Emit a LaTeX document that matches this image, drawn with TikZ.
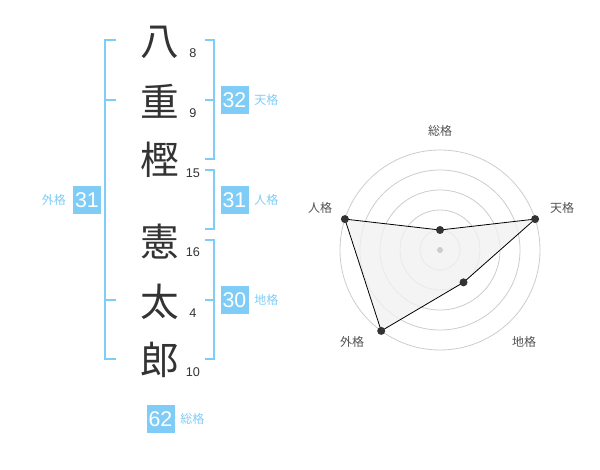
\documentclass[tikz,border=0pt]{standalone}
\usepackage{fontspec}
\setmainfont{Liberation Sans}
\newfontfamily\jpfont{Noto Sans CJK JP}
\usetikzlibrary{positioning}
\definecolor{seiblue}{HTML}{7FCCF7}
\definecolor{seitext}{HTML}{333333}
\definecolor{seigrid}{HTML}{CCCCCC}
\definecolor{seifill}{HTML}{F1F1F1}
\tikzset{
  kanji/.style={font=\jpfont\fontsize{29}{29}\selectfont, text=seitext, inner sep=0pt},
  strokes/.style={font=\fontsize{9.5}{10}\selectfont, text=seitext, inner sep=0pt},
  scorebox/.style={fill=seiblue, text=white, minimum size=21pt, inner sep=0pt, font=\fontsize{16}{16}\selectfont},
  scorelabel/.style={text=seiblue, font=\jpfont\fontsize{9}{9}\selectfont, inner sep=0pt},
  bracket/.style={draw=seiblue, line width=1.5pt},
  axislabel/.style={text=seitext!85, font=\jpfont\fontsize{9}{9}\selectfont, inner sep=0pt},
  valdot/.style={circle, fill=seitext, inner sep=0pt, minimum size=6pt},
}

\begin{document}
\begin{tikzpicture}[x=0.75pt, y=-0.75pt]
  \useasboundingbox (0,0) rectangle (600,470);

  % Name characters
  \node[kanji] (c1) at (160,42) {八};
  \node[kanji] (c2) at (160,101) {重};
  \node[kanji] (c3) at (160,160) {樫};
  \node[kanji] (c4) at (160,242) {憲};
  \node[kanji] (c5) at (160,302) {太};
  \node[kanji] (c6) at (160,360) {郎};

  % Stroke counts
  \node[strokes] (n1) at (193,53) {8};
  \node[strokes] (n2) at (193,113) {9};
  \node[strokes] (n3) at (193,173) {15};
  \node[strokes] (n4) at (193,252) {16};
  \node[strokes] (n5) at (193,313) {4};
  \node[strokes] (n6) at (193,372) {10};

  % Brackets
  \draw[bracket] (116,40) -| (105,359) -- (116,359);
  \draw[bracket] (105,100) -- (116,100);
  \draw[bracket] (105,300) -- (116,300);
  \draw[bracket] (205,40) -| (214,159) -- (205,159);
  \draw[bracket] (205,100) -- (214,100);
  \draw[bracket] (205,170) -| (214,229) -- (205,229);
  \draw[bracket] (205,240) -| (214,359) -- (205,359);
  \draw[bracket] (205,300) -- (214,300);

  % Scores
  \node[scorebox] (ten) at (234.5,100) {32};
  \node[scorelabel, right=4pt of ten] {天格};
  \node[scorebox] (jin) at (234.5,200) {31};
  \node[scorelabel, right=4pt of jin] {人格};
  \node[scorebox] (chi) at (234.5,300) {30};
  \node[scorelabel, right=4pt of chi] {地格};
  \node[scorebox] (gai) at (87,200) {31};
  \node[scorelabel, left=5pt of gai] {外格};
  \node[scorebox] (sou) at (160.5,419) {62};
  \node[scorelabel, right=4pt of sou] {総格};

  % Radar chart
  \begin{scope}[shift={(440,250)}, y=0.75pt]
    \foreach \r in {20,40,...,100}
      \draw[seigrid, line width=0.6pt] (0,0) circle (\r);
    \coordinate (pSou) at (90:20);
    \coordinate (pTen) at (18:100);
    \coordinate (pChi) at (-54:40);
    \coordinate (pGai) at (-126:100);
    \coordinate (pJin) at (162:100);
    \fill[seifill, opacity=0.8] (pSou) -- (pTen) -- (pChi) -- (pGai) -- (pJin) -- cycle;
    \draw[black, line width=0.6pt] (pSou) -- (pTen) -- (pChi) -- (pGai) -- (pJin) -- cycle;
    \node[circle, fill=seigrid, inner sep=0pt, minimum size=4.5pt] (mid) at (0,0) {};
    \foreach \p in {pSou,pTen,pChi,pGai,pJin}
      \node[valdot] at (\p) {};
    \node[axislabel] (lSou) at (0,119) {総格};
    \node[axislabel] (lTen) at (122,42) {天格};
    \node[axislabel] (lJin) at (-120,42) {人格};
    \node[axislabel] (lGai) at (-88,-92) {外格};
    \node[axislabel] (lChi) at (84,-92) {地格};
  \end{scope}
\end{tikzpicture}
\end{document}
